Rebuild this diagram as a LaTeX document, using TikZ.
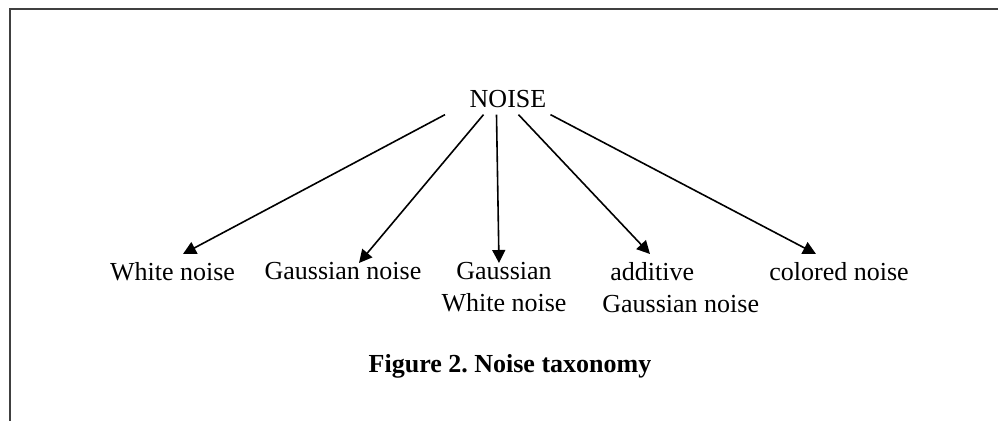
\documentclass[tikz,border=0pt]{standalone}
\usepackage{fontspec}
\setmainfont{Liberation Serif}
\usetikzlibrary{arrows.meta,calc,positioning}

\begin{document}
\begin{tikzpicture}[
    x=0.5pt, y=-0.5pt,
    topic/.style={inner sep=0pt, anchor=base, font=\fontsize{13}{16}\selectfont},
    leaf/.style={inner sep=0pt, anchor=north, align=center, font=\fontsize{13}{16}\selectfont},
    caption/.style={inner sep=0pt, anchor=base, font=\fontsize{13}{16}\selectfont\bfseries},
    branch/.style={-{Triangle[length=6.5pt, width=6.5pt]}, line width=0.8pt, black},
    frame/.style={line width=1pt, black!75}
]
    \useasboundingbox (0,0) rectangle (998,421);
    \draw[frame] (998,9) -- (10,9) -- (10,421);

    \node[topic] (noise) at (508,108) {NOISE};
    \node[leaf] (white) at (172.5,262) {White noise};
    \node[leaf] (gauss) at (343,262) {Gaussian noise};
    \node[leaf] (gwn) at (504,262) {Gaussian\\White noise};
    \node[leaf, anchor=north west, align=left] (additive) at (602,262) {\hspace*{4pt}additive\\Gaussian noise};
    \node[leaf] (colored) at (839,262) {colored noise};
    \node[caption] (fig) at (510,373) {Figure 2.\ Noise taxonomy};

    \draw[branch] ($(noise.south)+(-63,6)$) -- ($(white.north)+(10.5,-8)$);
    \draw[branch] ($(noise.south)+(-24.5,6)$) -- ($(gauss.north)+(16,1)$);
    \draw[branch] ($(noise.south)+(-11.5,6)$) -- ($(gwn.north)+(-5,1)$);
    \draw[branch] ($(noise.south)+(10.5,6)$) -- ($(additive.north west)+(48,-8)$);
    \draw[branch] ($(noise.south)+(42.5,6)$) -- ($(colored.north)+(-23,-8)$);
\end{tikzpicture}
\end{document}
